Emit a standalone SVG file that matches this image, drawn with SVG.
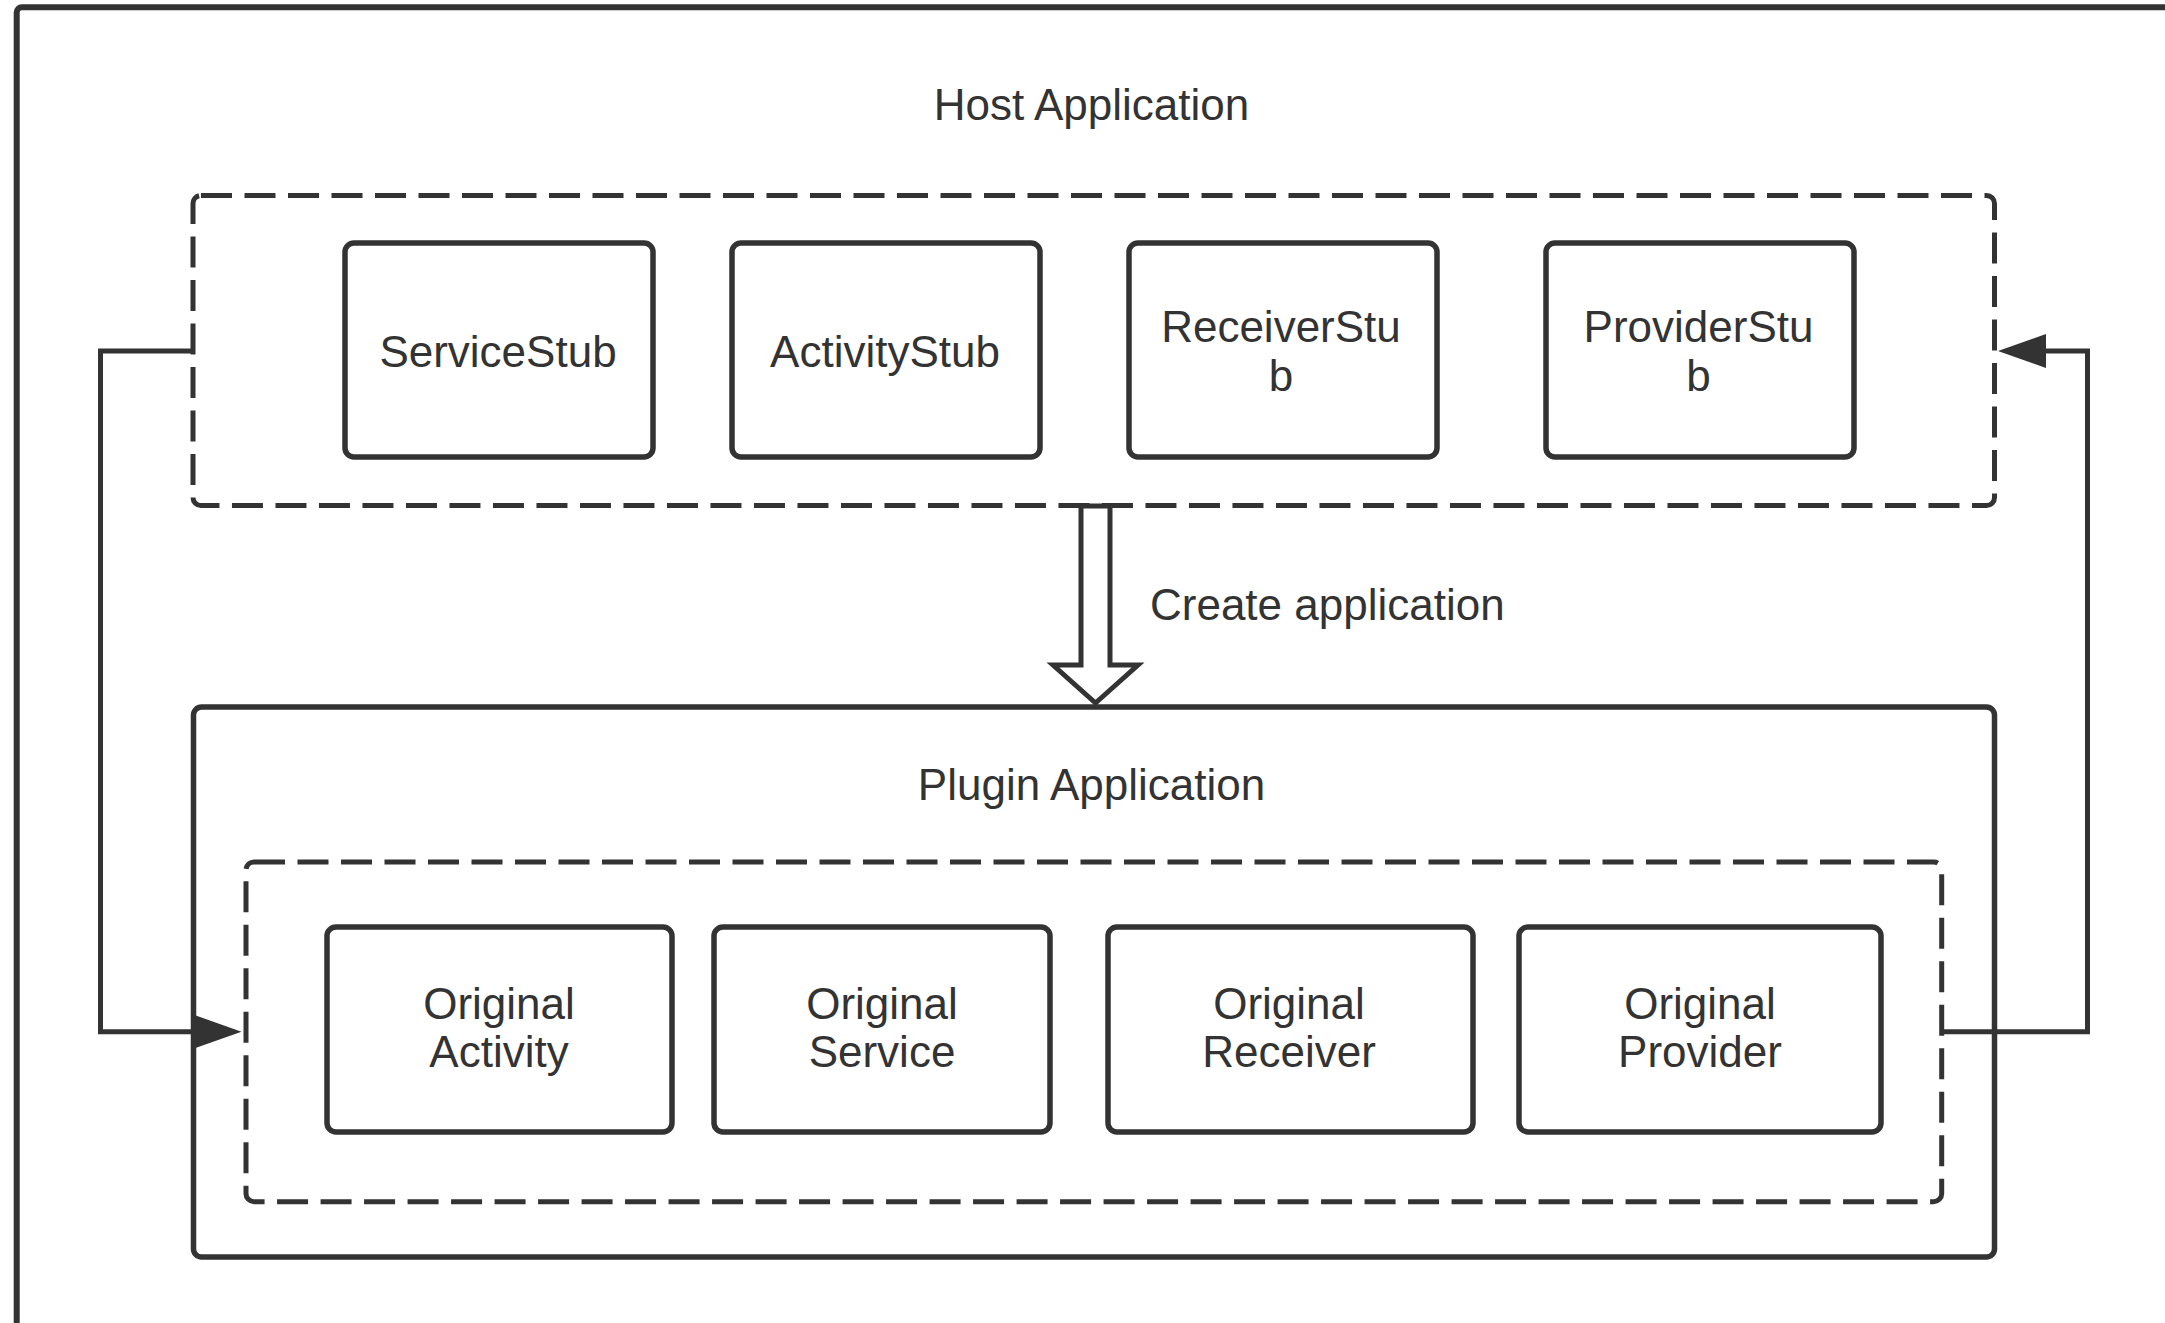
<svg xmlns="http://www.w3.org/2000/svg" width="2165" height="1323" viewBox="0 0 2165 1323">
  <style>
    .frame { fill: none; stroke: #333333; stroke-width: 6; }
    .dash { fill: none; stroke: #333333; stroke-width: 5; stroke-dasharray: 31 12.5; }
    .box { fill: #ffffff; stroke: #333333; stroke-width: 5.5; }
    .solid { fill: none; stroke: #333333; stroke-width: 5.5; }
    .conn { fill: none; stroke: #333333; stroke-width: 5; stroke-linejoin: miter; }
    .label { font-family: "Liberation Sans", Arial, sans-serif; font-size: 44px; fill: #333333; text-anchor: middle; }
    .labelStart { font-family: "Liberation Sans", Arial, sans-serif; font-size: 44px; fill: #333333; text-anchor: start; }
  </style>
  <defs>
    <marker id="arrow" viewBox="0 0 48 34" refX="0" refY="17" markerWidth="48" markerHeight="34" markerUnits="userSpaceOnUse" orient="auto">
      <path d="M0,0 L48,17 L0,34 Z" fill="#333333"/>
    </marker>
  </defs>
  <rect width="2165" height="1323" fill="#ffffff"/>

  <g id="outer-frame">
    <rect class="frame" x="16.7" y="7.3" width="2160" height="1340" rx="5"/>
  </g>

  <g id="host-application">
    <text class="label" x="1091.5" y="120">Host Application</text>
    <rect class="dash" x="193" y="195.5" width="1801.5" height="310" rx="8"/>
  </g>

  <g id="service-stub">
    <rect class="box" x="345" y="243" width="308" height="214" rx="9"/>
    <text class="label" x="498" y="367">ServiceStub</text>
  </g>
  <g id="activity-stub">
    <rect class="box" x="732" y="243" width="308" height="214" rx="9"/>
    <text class="label" x="885" y="367">ActivityStub</text>
  </g>
  <g id="receiver-stub">
    <rect class="box" x="1129" y="243" width="308" height="214" rx="9"/>
    <text class="label" x="1281" y="341.5">ReceiverStu</text>
    <text class="label" x="1281" y="390.5">b</text>
  </g>
  <g id="provider-stub">
    <rect class="box" x="1546" y="243" width="308" height="214" rx="9"/>
    <text class="label" x="1698.5" y="341.5">ProviderStu</text>
    <text class="label" x="1698.5" y="390.5">b</text>
  </g>

  <g id="plugin-application">
    <rect class="solid" x="193.5" y="707" width="1801" height="550" rx="8"/>
    <text class="label" x="1091.5" y="800">Plugin Application</text>
    <rect class="dash" x="246" y="862" width="1695.7" height="339.7" rx="8"/>
  </g>

  <g id="original-activity">
    <rect class="box" x="327" y="927" width="345" height="205" rx="9"/>
    <text class="label" x="499" y="1019">Original</text>
    <text class="label" x="499" y="1067">Activity</text>
  </g>
  <g id="original-service">
    <rect class="box" x="714" y="927" width="336" height="205" rx="9"/>
    <text class="label" x="882" y="1019">Original</text>
    <text class="label" x="882" y="1067">Service</text>
  </g>
  <g id="original-receiver">
    <rect class="box" x="1108" y="927" width="365" height="205" rx="9"/>
    <text class="label" x="1289" y="1019">Original</text>
    <text class="label" x="1289" y="1067">Receiver</text>
  </g>
  <g id="original-provider">
    <rect class="box" x="1519" y="927" width="362" height="205" rx="9"/>
    <text class="label" x="1700" y="1019">Original</text>
    <text class="label" x="1700" y="1067">Provider</text>
  </g>

  <g id="connectors">
    <path class="conn" d="M193,351 H100.5 V1031.7 H193.5" marker-end="url(#arrow)"/>
    <path class="conn" d="M1941.7,1031.7 H2087.5 V351 H2046" marker-end="url(#arrow)"/>
    <polygon class="conn" fill="#ffffff" style="fill:#ffffff" points="1081,506 1110,506 1110,665 1138,665 1095.5,703 1053,665 1081,665"/>
    <text class="labelStart" x="1150" y="620">Create application</text>
  </g>
</svg>
